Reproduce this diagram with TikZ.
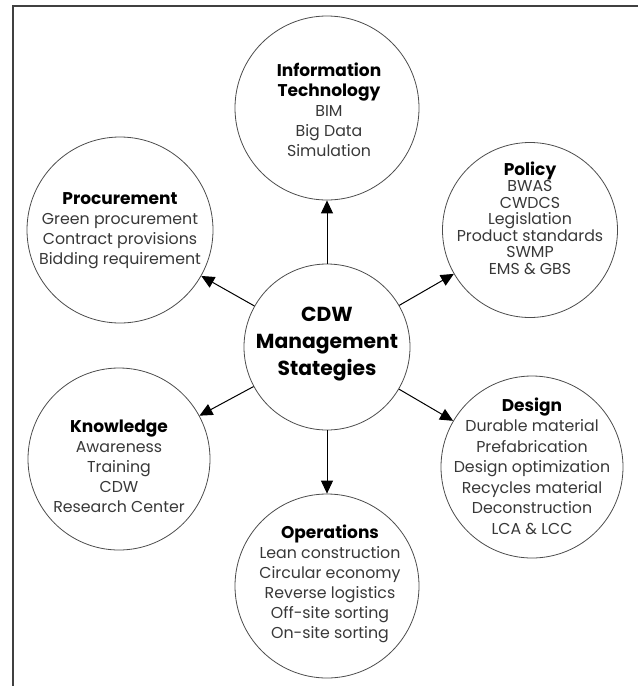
\documentclass[tikz,border=0pt]{standalone}
\usepackage{fontspec}
\setmainfont{Poppins}
\usetikzlibrary{arrows.meta}
\newcommand{\ttlfont}{\fontsize{17}{22}\selectfont\bfseries\color{black}}
\begin{document}
\begin{tikzpicture}[x=1pt,y=-1pt,
  circ/.style={circle,draw=black!70,line width=0.8pt,inner sep=0pt,minimum size=#1},
  body/.style={align=center,text=black!78,inner sep=0pt,font=\fontsize{15.8}{#1}\selectfont},
  arr/.style={line width=1pt,draw=black,-{Triangle[length=13pt,width=12pt]}}]
\useasboundingbox (0,0) rectangle (638,686);
\draw[line width=1.5pt,black!75] (13,686) -- (13,6) -- (638,6);
% circles
\node[circ=166pt] (main) at (327,347) {};
\node[circ=184pt] (it) at (327,108) {};
\node[circ=175pt] (pol) at (530,230) {};
\node[circ=186pt] (proc) at (120,230) {};
\node[circ=182pt] (know) at (119,459) {};
\node[circ=182pt] (des) at (532,467) {};
\node[circ=184pt] (ops) at (327,586) {};
% texts
\node[align=center,inner sep=0pt,font=\fontsize{20.3}{27}\selectfont\bfseries] (mainT) at (327,344) {CDW\\Management\\Stategies};
\node[body=20] (itT) at (329,110) {{\ttlfont Information}\\{\ttlfont Technology}\\BIM\\Big Data\\Simulation};
\node[body=16.5] (polT) at (530,218) {{\ttlfont Policy}\\BWAS\\CWDCS\\Legislation\\Product standards\\SWMP\\EMS \& GBS};
\node[body=20] (procT) at (120,231) {{\ttlfont Procurement}\\Green procurement\\Contract provisions\\Bidding requirement};
\node[body=20] (knowT) at (119,466) {{\ttlfont Knowledge}\\Awareness\\Training\\CDW\\Research Center};
\node[body=20.5] (desT) at (532,466) {{\ttlfont Design}\\Durable material\\Prefabrication\\Design optimization\\Recycles material\\Deconstruction\\LCA \& LCC};
\node[body=20] (opsT) at (330,584) {{\ttlfont Operations}\\Lean construction\\Circular economy\\Reverse logistics\\Off-site sorting\\On-site sorting};
% arrows
\draw[arr] (main) -- (it);
\draw[arr] (main) -- (pol);
\draw[arr] (main) -- (proc);
\draw[arr] (main) -- (know);
\draw[arr] (main) -- (des);
\draw[arr] (main) -- (ops);
\end{tikzpicture}
\end{document}
